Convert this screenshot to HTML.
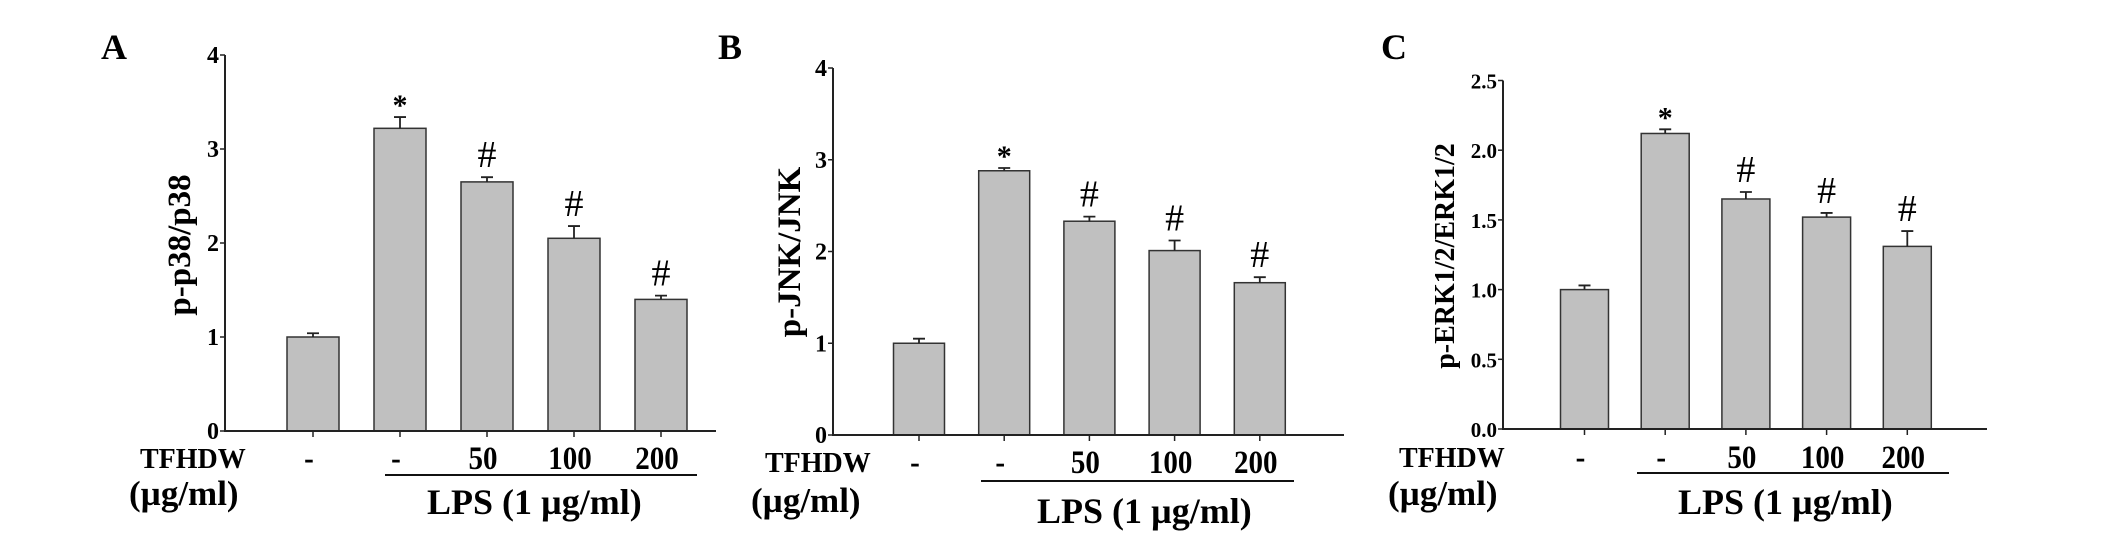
<!DOCTYPE html>
<html><head><meta charset="utf-8">
<style>
html,body{margin:0;padding:0;background:#fff;}
svg{display:block;font-family:"Liberation Serif",serif;font-weight:bold;}
</style></head>
<body>
<svg id="fig" width="2126" height="549" viewBox="0 0 2126 549" xmlns="http://www.w3.org/2000/svg">
  <text x="101" y="59" font-size="36">A</text>
  <text x="718" y="59" font-size="36">B</text>
  <text x="1381" y="59" font-size="36">C</text>
</svg>
<script>
const categories = ["-", "-", "50", "100", "200"];
const valuesA = [1.00, 3.22, 2.65, 2.05, 1.40];
const errorsA = [0.04, 0.12, 0.05, 0.13, 0.04];
const marksA = ["", "*", "#", "#", "#"];
const ticksA = [0, 1, 2, 3, 4];
const tickLabelsA = ["0", "1", "2", "3", "4"];
const valuesB = [1.00, 2.88, 2.33, 2.01, 1.66];
const errorsB = [0.05, 0.03, 0.05, 0.11, 0.06];
const marksB = ["", "*", "#", "#", "#"];
const ticksB = [0, 1, 2, 3, 4];
const tickLabelsB = ["0", "1", "2", "3", "4"];
const valuesC = [1.00, 2.12, 1.65, 1.52, 1.31];
const errorsC = [0.03, 0.03, 0.05, 0.03, 0.11];
const marksC = ["", "*", "#", "#", "#"];
const ticksC = [0, 0.5, 1.0, 1.5, 2.0, 2.5];
const tickLabelsC = ["0.0", "0.5", "1.0", "1.5", "2.0", "2.5"];

const NS = "http://www.w3.org/2000/svg";
const svg = document.getElementById("fig");
function mk(tag, attrs, parent) {
  const e = document.createElementNS(NS, tag);
  for (const k in attrs) e.setAttribute(k, attrs[k]);
  (parent || svg).appendChild(e);
  return e;
}

const panels = [
  {id:"a", vals:valuesA, errs:errorsA, marks:marksA, ticks:ticksA, tl:tickLabelsA, ymax:4,
   ax:225, y0:431, yTop:55, xEnd:716, c0:313, step:87, bw:52, tickFs:24,
   ylabel:"p-p38/p38", ylx:190, yly:245, ylfs:33,
   tf:[140,468], ug:[129,505], line:[385,697,475], lps:[427,514], catY:469, catFs:33, lpsFs:36},
  {id:"b", vals:valuesB, errs:errorsB, marks:marksB, ticks:ticksB, tl:tickLabelsB, ymax:4,
   ax:833, y0:435, yTop:68, xEnd:1344, c0:919, step:85.2, bw:51, tickFs:24,
   ylabel:"p-JNK/JNK", ylx:800, yly:252, ylfs:33,
   tf:[765,472], ug:[751,512], line:[981,1294,481], lps:[1037,523], catY:473, catFs:33, lpsFs:36},
  {id:"c", vals:valuesC, errs:errorsC, marks:marksC, ticks:ticksC, tl:tickLabelsC, ymax:2.5,
   ax:1503, y0:429, yTop:80.5, xEnd:1987, c0:1584.5, step:80.7, bw:48, tickFs:21,
   ylabel:"p-ERK1/2/ERK1/2", ylx:1454, yly:256, ylfs:28,
   tf:[1399,467], ug:[1388,505], line:[1637,1949,473], lps:[1678,514], catY:468, catFs:33, lpsFs:36}
];

panels.forEach(p => {
  const g = mk("g", {});
  
  
  const yS = v => p.y0 - (v / p.ymax) * (p.y0 - p.yTop);
  const xS = i => p.c0 + i * p.step;
  p.vals.forEach((v, i) => {
    const cx = xS(i);
    const bar = mk("rect", {x:cx - p.bw/2, y:yS(v), width:p.bw, height:p.y0 - yS(v), fill:"#c0c0c0", stroke:"#333", "stroke-width":1.5}, g);
    
    
    const et = yS(v + p.errs[i]);
    const eb = mk("path", {d:`M${cx} ${yS(v)}V${et}M${cx-6} ${et}H${cx+6}`, stroke:"#222", "stroke-width":1.8, fill:"none"}, g);
    
    
    if (p.marks[i]) {
      const isStar = p.marks[i] === "*";
      const m = mk("text", {x:cx, y:et - (isStar ? 2 : 10), "text-anchor":"middle", "font-size": isStar ? 30 : 38, "font-weight": isStar ? "bold" : "normal"}, g);
      m.textContent = p.marks[i];
      
      
    }
    const tk = mk("line", {x1:cx, x2:cx, y1:p.y0, y2:p.y0 + 6, stroke:"#222", "stroke-width":1.5}, g);
    
    
    const cl = mk("text", {x:0, y:0, transform:`translate(${cx - 4},${p.catY}) scale(0.88,1)`, "text-anchor":"middle", "font-size":p.catFs}, g);
    cl.textContent = categories[i];
    
    
  });
  const axes = mk("path", {d:`M${p.ax} ${p.yTop}V${p.y0}H${p.xEnd}`, stroke:"#222", "stroke-width":2, fill:"none"}, g);
  
  
  p.ticks.forEach((t, j) => {
    const y = yS(t);
    const tl = mk("line", {x1:p.ax - 5, x2:p.ax, y1:y, y2:y, stroke:"#222", "stroke-width":1.5}, g);
    
    
    const tx = mk("text", {x:p.ax - 6, y:y + 8, "text-anchor":"end", "font-size":p.tickFs}, g);
    tx.textContent = p.tl[j];
    
    
  });
  const yl = mk("text", {x:0, y:0, transform:`translate(${p.ylx},${p.yly}) rotate(-90)`, "text-anchor":"middle", "font-size":p.ylfs}, g);
  yl.textContent = p.ylabel;
  
  
  const tf = mk("text", {x:p.tf[0], y:p.tf[1], "font-size":28}, g);
  tf.textContent = "TFHDW";
  
  
  const ug = mk("text", {x:p.ug[0], y:p.ug[1], "font-size":35}, g);
  ug.textContent = "(µg/ml)";
  
  
  const ln = mk("line", {x1:p.line[0], x2:p.line[1], y1:p.line[2], y2:p.line[2], stroke:"#111", "stroke-width":2}, g);
  
  
  const lps = mk("text", {x:p.lps[0], y:p.lps[1], "font-size":p.lpsFs}, g);
  lps.textContent = "LPS (1 µg/ml)";
  
  
});
</script>
</body></html>
